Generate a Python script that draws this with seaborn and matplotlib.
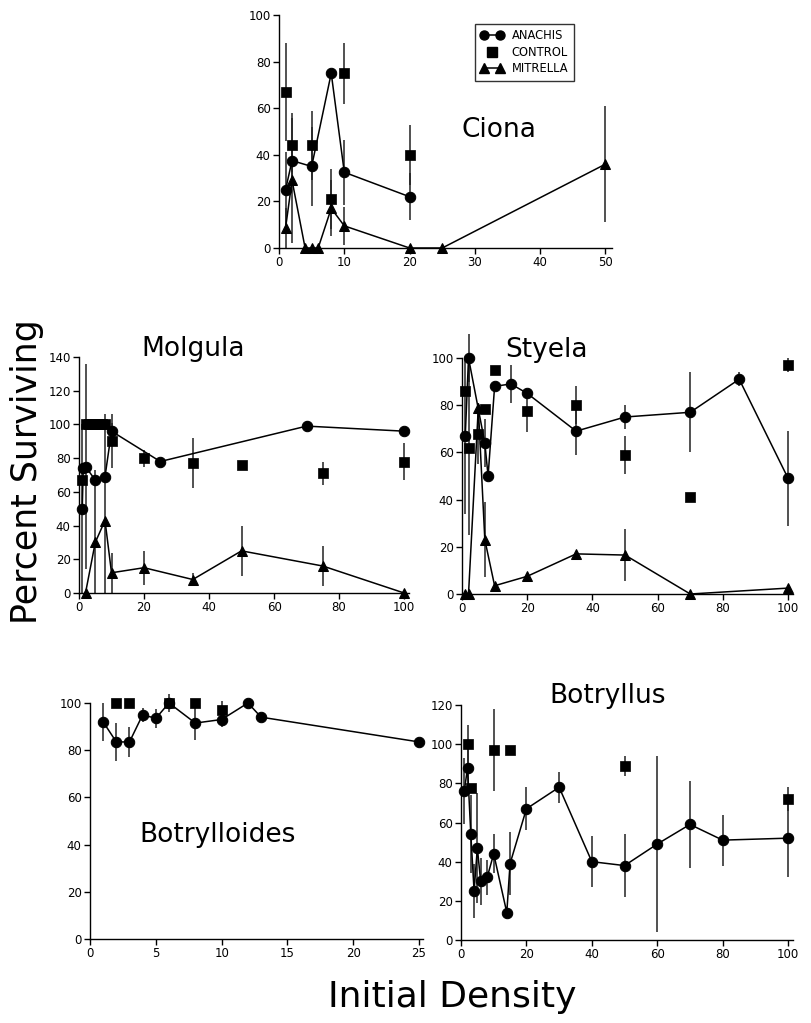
import numpy as np
import pandas as pd
import matplotlib
matplotlib.use("Agg")
import matplotlib.pyplot as plt
import seaborn as sns
from matplotlib.lines import Line2D
from matplotlib.legend_handler import HandlerLine2D

# ---------------- DATA ----------------
# Ciona
ciona_anachis_x = [1, 2, 5, 8, 10, 20]
ciona_anachis_y = [25, 37.5, 35, 75, 32.5, 22]
ciona_anachis_err = [16, 5, 17, 0, 14, 10]
ciona_control_x = [1, 2, 5, 8, 10, 20]
ciona_control_y = [67, 44, 44, 21, 75, 40]
ciona_control_err = [21, 14, 15, 13, 13, 13]
ciona_mitrella_x = [1, 2, 4, 5, 6, 8, 10, 20, 25, 50]
ciona_mitrella_y = [8.5, 29, 0, 0, 0, 17, 9.5, 0, 0, 36]
ciona_mitrella_err = [8.5, 27, 0, 0, 0, 12, 8, 0, 0, 25]

# Molgula
molgula_anachis_x = [1, 1.3, 2, 5, 8, 10, 25, 70, 100]
molgula_anachis_y = [50, 74, 75, 67, 69, 96, 78, 99, 96]
molgula_anachis_err = [50, 0, 61, 0, 0, 5, 0, 3, 0]
molgula_control_x = [1, 2, 3, 4, 5, 6, 7, 8, 10, 20, 35, 50, 75, 100]
molgula_control_y = [67, 100, 100, 100, 100, 100, 100, 100, 90, 80, 77, 76, 71, 78]
molgula_control_err = [0, 0, 0, 0, 0, 0, 0, 0, 16, 5, 15, 2, 7, 11]
molgula_mitrella_x = [2, 5, 8, 10, 20, 35, 50, 75, 100]
molgula_mitrella_y = [0, 30, 43, 12, 15, 8, 25, 16, 0]
molgula_mitrella_err = [0, 43, 63, 12, 10, 4, 15, 12, 0]

# Styela
styela_anachis_x = [1, 2, 7, 8, 10, 15, 20, 35, 50, 70, 85, 100]
styela_anachis_y = [67, 100, 64, 50, 88, 89, 85, 69, 75, 77, 91, 49]
styela_anachis_err = [33, 10, 10, 0, 0, 8, 0, 10, 5, 17, 3, 20]
styela_control_x = [1, 2, 5, 7, 10, 20, 35, 50, 70, 100]
styela_control_y = [86, 62, 68, 78.5, 95, 77.5, 80, 59, 41, 97]
styela_control_err = [0, 37, 13, 0, 0, 9, 8, 8, 0, 3]
styela_mitrella_x = [1, 2, 5, 7, 10, 20, 35, 50, 70, 100]
styela_mitrella_y = [0, 0, 79, 23, 3.5, 7.5, 17, 16.5, 0, 2.5]
styela_mitrella_err = [0, 0, 0, 16, 0, 0, 0, 11, 0, 0]

# Botrylloides
btd_anachis_x = [1, 2, 3, 4, 5, 6, 8, 10, 12, 13, 25]
btd_anachis_y = [92, 83.5, 83.5, 95, 93.5, 100, 91.5, 93, 100, 94, 83.5]
btd_anachis_err = [8, 8, 6.5, 3, 4, 4, 7, 3, 0, 0, 0]
btd_control_x = [2, 3, 6, 8, 10]
btd_control_y = [100, 100, 100, 100, 97]
btd_control_err = [0, 0, 0, 0, 4]

# Botryllus
bts_anachis_x = [1, 2, 3, 4, 5, 6, 8, 10, 14, 15, 20, 30, 40, 50, 60, 70, 80, 100]
bts_anachis_y = [76, 88, 54, 25, 47, 30, 32, 44, 14, 39, 67, 78, 40, 38, 49, 59, 51, 52]
bts_anachis_err = [17, 10, 20, 14, 28, 12, 9, 10, 0, 16, 11, 8, 13, 16, 45, 22, 13, 20]
bts_control_x = [2, 3, 10, 15, 50, 100]
bts_control_y = [100, 77.5, 97, 97, 89, 72]
bts_control_err = [10, 0, 21, 2, 5, 6]

legend_labels = ["ANACHIS", "CONTROL", "MITRELLA"]

# ---------------- STYLE ----------------
sns.set_style("ticks", {"text.color": "black", "axes.labelcolor": "black",
                        "xtick.color": "black", "ytick.color": "black",
                        "axes.edgecolor": "black"})
plt.rcParams["font.family"] = ["DejaVu Sans"]
plt.rcParams["axes.linewidth"] = 1.0

W, H = 811, 1023
fig = plt.figure(figsize=(W / 100, H / 100), dpi=100)
fig.patch.set_facecolor("white")

TITLE_FS = 19


def rect(left, bottom, right, top):
    return [left / W, 1 - bottom / H, (right - left) / W, (bottom - top) / H]


def draw_errors(ax, x, y, err):
    x = np.asarray(x, float)
    y = np.asarray(y, float)
    e = np.asarray(err, float)
    m = e > 0
    if not m.any():
        return
    lower = np.minimum(e[m], y[m])
    c = ax.errorbar(x[m], y[m], yerr=[lower, e[m]], fmt="none", ecolor="#222222",
                    elinewidth=1.1, capsize=0, zorder=2)
    for ln in c.lines[2]:
        ln.set_clip_on(False)


def draw_line_series(ax, x, y, err, marker, ms):
    df = pd.DataFrame({"x": x, "y": y})
    draw_errors(ax, x, y, err)
    sns.lineplot(data=df, x="x", y="y", ax=ax, color="black", lw=1.1,
                 estimator=None, sort=False, marker=marker, markersize=ms,
                 markeredgecolor="black", markerfacecolor="black",
                 clip_on=False, zorder=3)


def draw_control(ax, x, y, err):
    df = pd.DataFrame({"x": x, "y": y})
    draw_errors(ax, x, y, err)
    sns.scatterplot(data=df, x="x", y="y", ax=ax, marker="s", s=45, color="black",
                    edgecolor="black", linewidth=0.5, clip_on=False, zorder=4)


def style_axes(ax, xlim, ylim, xticks, yticks):
    ax.set_xlim(*xlim)
    ax.set_ylim(*ylim)
    ax.set_xticks(xticks)
    ax.set_yticks(yticks)
    ax.set_xlabel("")
    ax.set_ylabel("")
    sns.despine(ax=ax)
    ax.tick_params(axis="both", direction="out", length=4, width=1, labelsize=8.5,
                   colors="black", pad=2)
    ax.patch.set_alpha(0)


# Ciona
ax1 = fig.add_axes(rect(279, 248, 612, 15))
draw_line_series(ax1, ciona_anachis_x, ciona_anachis_y, ciona_anachis_err, "o", 7.5)
draw_control(ax1, ciona_control_x, ciona_control_y, ciona_control_err)
draw_line_series(ax1, ciona_mitrella_x, ciona_mitrella_y, ciona_mitrella_err, "^", 7.5)
style_axes(ax1, (0, 51), (0, 100), [0, 10, 20, 30, 40, 50], range(0, 101, 20))
ax1.text(0.547, 0.506, "Ciona", transform=ax1.transAxes, fontsize=TITLE_FS,
         ha="left", va="center", color="black")
handles = [
    Line2D([], [], color="black", marker="o", markersize=6.5, lw=1.1),
    Line2D([], [], color="black", marker="s", markersize=6.5, lw=0),
    Line2D([], [], color="black", marker="^", markersize=6.5, lw=1.1),
]
leg = ax1.legend(handles, legend_labels, loc="upper right",
                 bbox_to_anchor=(0.902, 0.985), frameon=True, fancybox=False,
                 fontsize=8.3, numpoints=2, handlelength=2.0, handletextpad=0.7,
                 borderpad=0.45, labelspacing=0.3, labelcolor="black",
                 handler_map={handles[1]: HandlerLine2D(numpoints=1)})
leg.get_frame().set_edgecolor("black")
leg.get_frame().set_linewidth(1.0)

# Molgula
ax2 = fig.add_axes(rect(79, 593, 409, 357))
draw_line_series(ax2, molgula_anachis_x, molgula_anachis_y, molgula_anachis_err, "o", 7.5)
draw_control(ax2, molgula_control_x, molgula_control_y, molgula_control_err)
draw_line_series(ax2, molgula_mitrella_x, molgula_mitrella_y, molgula_mitrella_err, "^", 7.5)
style_axes(ax2, (0, 101.5), (0, 140), range(0, 101, 20), range(0, 141, 20))
ax2.text(0.188, 1.034, "Molgula", transform=ax2.transAxes, fontsize=TITLE_FS,
         ha="left", va="center", color="black")

# Styela
ax3 = fig.add_axes(rect(462, 594, 793, 358))
draw_line_series(ax3, styela_anachis_x, styela_anachis_y, styela_anachis_err, "o", 7.5)
draw_control(ax3, styela_control_x, styela_control_y, styela_control_err)
draw_line_series(ax3, styela_mitrella_x, styela_mitrella_y, styela_mitrella_err, "^", 7.5)
style_axes(ax3, (0, 101.5), (0, 100), range(0, 101, 20), range(0, 101, 20))
ax3.text(0.132, 1.034, "Styela", transform=ax3.transAxes, fontsize=TITLE_FS,
         ha="left", va="center", color="black")

# Botrylloides
ax4 = fig.add_axes(rect(90, 939, 423, 703))
draw_line_series(ax4, btd_anachis_x, btd_anachis_y, btd_anachis_err, "o", 7.5)
draw_control(ax4, btd_control_x, btd_control_y, btd_control_err)
style_axes(ax4, (0, 25.3), (0, 100), [0, 5, 10, 15, 20, 25], range(0, 101, 20))
ax4.text(0.149, 0.44, "Botrylloides", transform=ax4.transAxes, fontsize=TITLE_FS,
         ha="left", va="center", color="black")

# Botryllus
ax5 = fig.add_axes(rect(461, 940, 793, 705))
draw_line_series(ax5, bts_anachis_x, bts_anachis_y, bts_anachis_err, "o", 7.5)
draw_control(ax5, bts_control_x, bts_control_y, bts_control_err)
style_axes(ax5, (0, 101.5), (0, 120), range(0, 101, 20), range(0, 121, 20))
ax5.text(0.266, 1.038, "Botryllus", transform=ax5.transAxes, fontsize=TITLE_FS,
         ha="left", va="center", color="black")

fig.text(27 / W, 1 - 472 / H, "Percent Surviving", rotation=90, fontsize=25,
         ha="center", va="center", color="black")
fig.text(452 / W, 1 - 997 / H, "Initial Density", fontsize=26,
         ha="center", va="center", color="black")

fig.savefig("out.png", dpi=100, facecolor="white")
